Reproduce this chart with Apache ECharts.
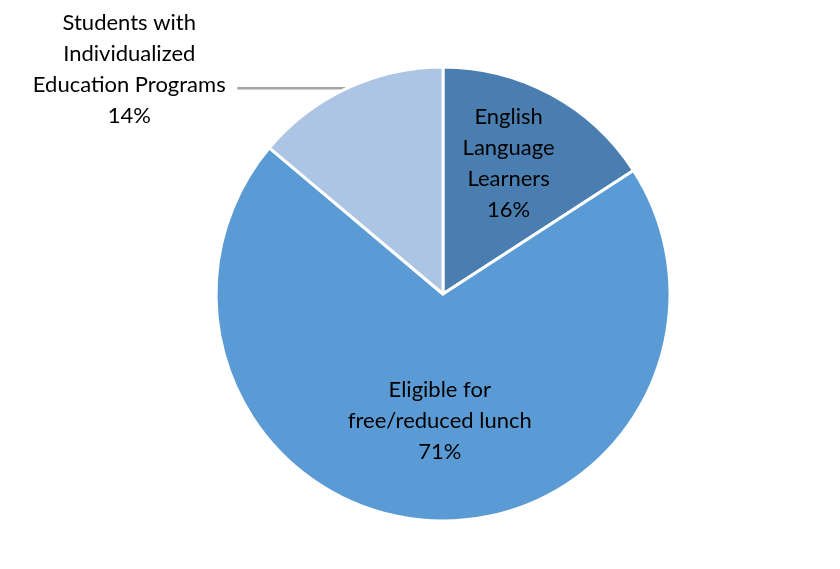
<!DOCTYPE html>
<html><head><meta charset="utf-8">
<script src="https://cdn.jsdelivr.net/npm/echarts@6/dist/echarts.min.js"></script>
<style>html,body{margin:0;padding:0;background:#fff}#c{width:840px;height:569px}</style>
</head><body><div id="c"></div>
<script>
const categories = ["English\nLanguage\nLearners", "Eligible for\nfree/reduced lunch", "Students with\nIndividualized\nEducation Programs"];
const values = [16, 71, 14];
const colors = ["#4A7EB0", "#5B9BD5", "#ADC5E5"];

const chart = echarts.init(document.getElementById('c'));
const centered = p => (p.name + '\n' + p.value + '%').split('\n').map(s => '{a|' + s + '}').join('\n');
chart.setOption({
  animation: false,
  series: [{
    type: 'pie',
    center: [443, 294],
    radius: 227,
    startAngle: 90,
    clockwise: true,
    data: categories.map((n, i) => ({
      name: n, value: values[i],
      itemStyle: { color: colors[i] },
      label: i === 2
        ? { position: 'outside', formatter: centered, padding: [0, 0, 38, 0],
            rich: { a: { width: 206, align: 'center', fontFamily: 'Lato', fontSize: 22, lineHeight: 31, color: '#000' } } }
        : { position: 'inside' },
      labelLine: { show: i === 2 }
    })),
    itemStyle: { borderColor: '#fff', borderWidth: 3 },
    label: {
      formatter: p => p.name + '\n' + p.value + '%',
      fontFamily: 'Lato',
      fontSize: 22,
      lineHeight: 31,
      color: '#000',
      align: 'center'
    },
    labelLine: { length: 0, length2: 110, lineStyle: { color: '#A6A6A6', width: 2.5 } },
    labelLayout: function (p) {
      if (p.dataIndex === 0) return { dx: 10, dy: -28 };
      if (p.dataIndex === 1) return { dx: 4, dy: 11 };
      return {};
    }
  }]
});
</script></body></html>
